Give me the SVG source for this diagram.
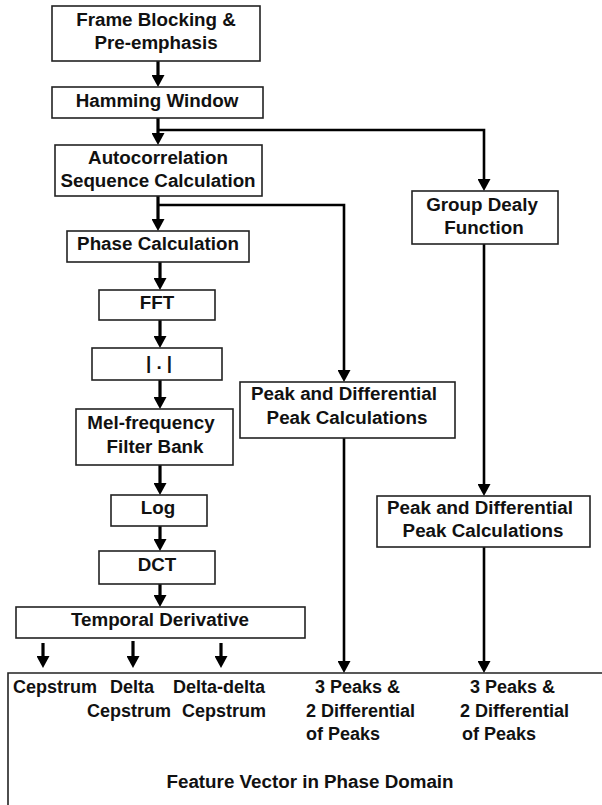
<svg xmlns="http://www.w3.org/2000/svg" width="602" height="805" viewBox="0 0 602 805">
<style>
.box{fill:#fff;stroke:#222;stroke-width:1.6}
.t{font-family:"Liberation Sans",Arial,sans-serif;font-weight:bold;font-size:18.8px;fill:#111;text-anchor:middle}
.b{font-family:"Liberation Sans",Arial,sans-serif;font-weight:bold;font-size:18px;fill:#111}
.c{fill:none;stroke:#000;stroke-width:2.6}
.ct{fill:none;stroke:#000;stroke-width:3.2}
</style>
<defs>
<marker id="av" markerUnits="userSpaceOnUse" markerWidth="12" markerHeight="13" viewBox="0 0 12 13" refX="5" refY="6.5" orient="auto">
<path d="M0,0 L12,6.5 L0,13 Z" fill="#000"/>
</marker>
</defs>
<g id="connectors">
<path class="ct" d="M158,61 V80" marker-end="url(#av)"/>
<path class="ct" d="M158,118 V138" marker-end="url(#av)"/>
<path class="c" d="M158,130 H484 V184" marker-end="url(#av)"/>
<path class="ct" d="M158,196 V224" marker-end="url(#av)"/>
<path class="c" d="M158,205 H344 V375" marker-end="url(#av)"/>
<path class="ct" d="M160,262 V283" marker-end="url(#av)"/>
<path class="ct" d="M160,320 V341" marker-end="url(#av)"/>
<path class="ct" d="M160,380 V402" marker-end="url(#av)"/>
<path class="ct" d="M160,465 V488" marker-end="url(#av)"/>
<path class="ct" d="M160,526 V544" marker-end="url(#av)"/>
<path class="ct" d="M160,584 V600" marker-end="url(#av)"/>
<path class="c" d="M484,244 V489" marker-end="url(#av)"/>
<path class="c" d="M344,438 V666" marker-end="url(#av)"/>
<path class="c" d="M484,547 V666" marker-end="url(#av)"/>
<path class="ct" d="M43,643 V661" marker-end="url(#av)"/>
<path class="ct" d="M133,641 V661" marker-end="url(#av)"/>
<path class="ct" d="M221,643 V661" marker-end="url(#av)"/>
</g>
<g id="frame-blocking">
<rect class="box" x="52" y="6" width="208" height="55"/>
<text class="t" x="156" y="26">Frame Blocking &amp;</text>
<text class="t" x="156" y="49">Pre-emphasis</text>
</g>
<g id="hamming">
<rect class="box" x="52" y="87" width="211" height="31"/>
<text class="t" x="157" y="107">Hamming Window</text>
</g>
<g id="autocorrelation">
<rect class="box" x="55" y="145" width="207" height="51"/>
<text class="t" x="158" y="164">Autocorrelation</text>
<text class="t" x="158" y="187">Sequence Calculation</text>
</g>
<g id="group-delay">
<rect class="box" x="412" y="191" width="146" height="53"/>
<text class="t" x="482" y="211">Group Dealy</text>
<text class="t" x="484" y="234">Function</text>
</g>
<g id="phase">
<rect class="box" x="67" y="231" width="182" height="31"/>
<text class="t" x="158" y="250">Phase Calculation</text>
</g>
<g id="fft">
<rect class="box" x="99" y="290" width="116" height="30"/>
<text class="t" x="157" y="309">FFT</text>
</g>
<g id="abs">
<rect class="box" x="92" y="348" width="130" height="32"/>
<text class="t" x="159" y="369">| . |</text>
</g>
<g id="mel">
<rect class="box" x="76" y="409" width="157" height="56"/>
<text class="t" x="151" y="429">Mel-frequency</text>
<text class="t" x="155" y="453">Filter Bank</text>
</g>
<g id="peak1">
<rect class="box" x="240" y="382" width="215" height="56"/>
<text class="t" x="344" y="400">Peak and Differential</text>
<text class="t" x="347" y="424">Peak Calculations</text>
</g>
<g id="peak2">
<rect class="box" x="377" y="496" width="213" height="51"/>
<text class="t" x="480" y="514">Peak and Differential</text>
<text class="t" x="483" y="537">Peak Calculations</text>
</g>
<g id="log">
<rect class="box" x="111" y="495" width="96" height="31"/>
<text class="t" x="158" y="514">Log</text>
</g>
<g id="dct">
<rect class="box" x="99" y="551" width="116" height="33"/>
<text class="t" x="157" y="571">DCT</text>
</g>
<g id="temporal">
<rect class="box" x="16" y="607" width="289" height="31"/>
<text class="t" x="160" y="626">Temporal Derivative</text>
</g>
<g id="feature-vector">
<path d="M8,806 V673 H603" fill="none" stroke="#222" stroke-width="1.6"/>
<text class="b" x="13" y="693">Cepstrum</text>
<text class="b" x="110" y="693">Delta</text>
<text class="b" x="87" y="717">Cepstrum</text>
<text class="b" x="173" y="693">Delta-delta</text>
<text class="b" x="182" y="717">Cepstrum</text>
<text class="b" x="315" y="693">3 Peaks &amp;</text>
<text class="b" x="306" y="717">2 Differential</text>
<text class="b" x="306" y="740">of Peaks</text>
<text class="b" x="470" y="693">3 Peaks &amp;</text>
<text class="b" x="460" y="717">2 Differential</text>
<text class="b" x="462" y="740">of Peaks</text>
<text class="t" x="310" y="788">Feature Vector in Phase Domain</text>
</g>
</svg>
